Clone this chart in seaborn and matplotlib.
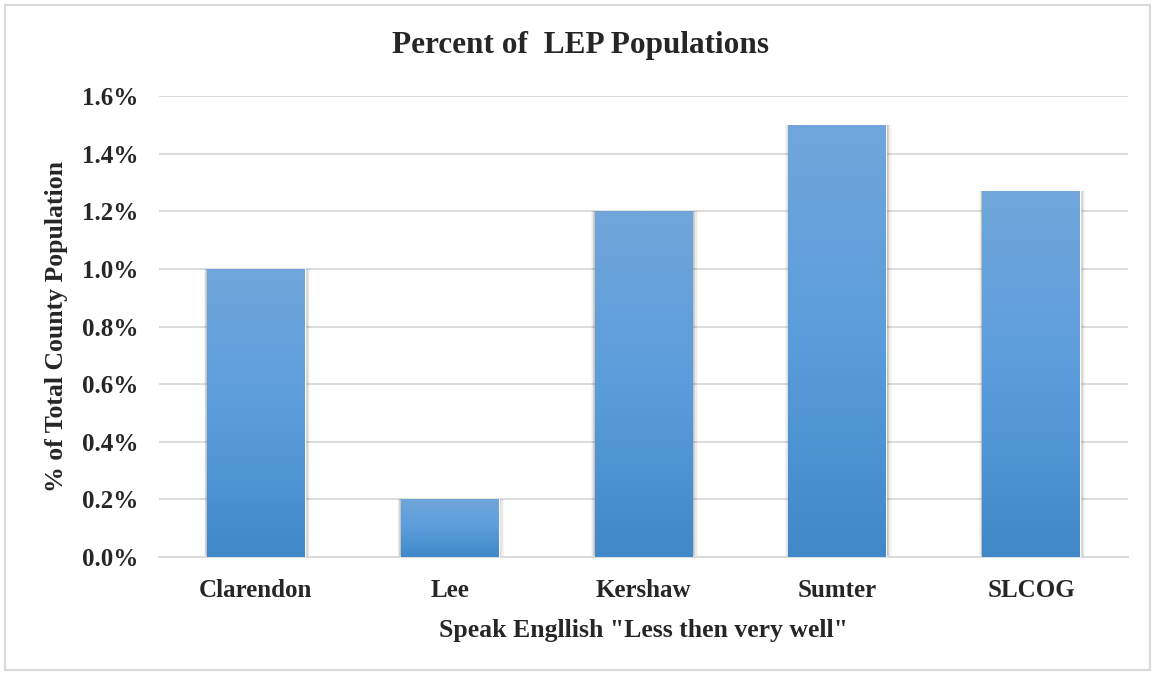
import numpy as np
import pandas as pd
import matplotlib
matplotlib.use("Agg")
import matplotlib.pyplot as plt
import seaborn as sns
from matplotlib.colors import LinearSegmentedColormap
from matplotlib.patches import Rectangle
from matplotlib.ticker import FuncFormatter, MultipleLocator

counties = ["Clarendon", "Lee", "Kershaw", "Sumter", "SLCOG"]
lep_pct = [1.0, 0.2, 1.2, 1.5, 1.27]
title = "Percent of  LEP Populations"
xlabel = "Speak Engllish \"Less then very well\""
ylabel = "% of Total County Population"

sns.set_theme(style="white")
plt.rcParams["font.family"] = ["Liberation Serif", "DejaVu Serif"]
plt.rcParams["font.weight"] = "bold"

df = pd.DataFrame({"county": counties, "pct": lep_pct})

fig = plt.figure(figsize=(11.55, 6.75), dpi=100)
ax = fig.add_axes([159/1155, 1 - 557/675, (1128-159)/1155, (557-96)/675])

sns.barplot(data=df, x="county", y="pct", color="#5599d6", width=0.505, ax=ax,
            saturation=1, zorder=3)
ax.set_ylim(0, 1.6)
ax.set_xlim(-0.5, len(counties) - 0.5)

cmap = LinearSegmentedColormap.from_list("g", ["#4088c8", "#5b9ddc", "#70a6da"])
grad = np.linspace(0, 1, 256).reshape(-1, 1)
for p in list(ax.patches):
    x0, y0 = p.get_x(), p.get_y()
    w, h = p.get_width(), p.get_height()
    # soft shadow
    for k, a in enumerate([0.15, 0.09, 0.05, 0.03]):
        dx = 0.007 * (k + 1)
        dy = 0.006 * (k + 1)
        sh = Rectangle((x0 - dx * 0.6, y0 - dy * 0.6), w + dx * 1.6, h + dy * 0.6,
                       facecolor="black", alpha=a, edgecolor="none", zorder=2)
        ax.add_patch(sh)
    im = ax.imshow(grad, extent=[x0, x0 + w, y0, y0 + h], origin="lower", cmap=cmap,
                   aspect="auto", zorder=4)
    im.set_clip_path(p)

ax.set_aspect("auto")
ax.set_ylim(0, 1.6)
ax.set_xlim(-0.5, len(counties) - 0.5)

ax.yaxis.set_major_locator(MultipleLocator(0.2))
ax.yaxis.set_major_formatter(FuncFormatter(lambda v, _: f"{v:.1f}%"))
ax.grid(axis="y", color="#d9d9d9", linewidth=1.3, zorder=0)
ax.set_axisbelow(True)
for s in ["top", "right", "left"]:
    ax.spines[s].set_visible(False)
ax.spines["bottom"].set_color("#d9d9d9")
ax.spines["bottom"].set_linewidth(1.3)
ax.tick_params(axis="both", length=0, labelsize=18, colors="#262626")
ax.tick_params(axis="y", pad=15)
ax.tick_params(axis="x", pad=16)
for t in ax.get_xticklabels() + ax.get_yticklabels():
    t.set_fontweight("bold")

fig.text(643/1155, 1 - 630/675, xlabel, ha="center", va="center", fontsize=18.5,
         fontweight="bold", color="#262626")
fig.text(57/1155, 1 - 326/675, ylabel, ha="center", va="center", rotation=90,
         fontsize=18.5, fontweight="bold", color="#262626")
ax.set_xlabel("")
ax.set_ylabel("")
fig.text(581/1155, 1 - 45/675, title, ha="center", va="center", fontsize=22.5,
         fontweight="bold", color="#262626")

fig.patches.append(Rectangle((5/1155, 5/675), 1 - 10/1155, 1 - 10/675,
                             transform=fig.transFigure, fill=False,
                             edgecolor="#d9d9d9", linewidth=1.5))

fig.savefig("out.png", dpi=100)
